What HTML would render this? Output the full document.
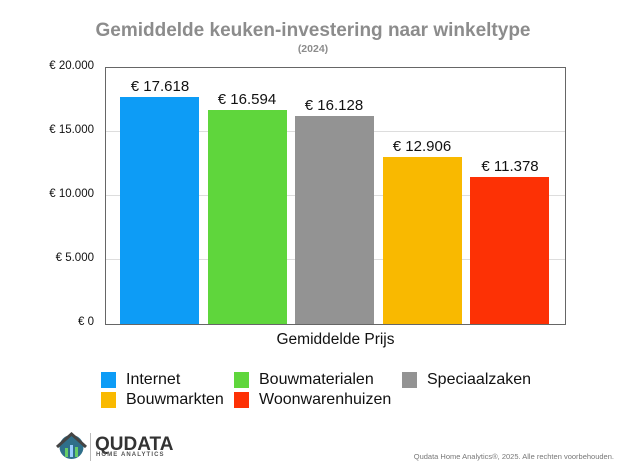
<!DOCTYPE html>
<html><head><meta charset="utf-8"><style>
body{margin:0;background:#fff;width:626px;height:472px;overflow:hidden;font-family:"Liberation Sans",sans-serif;position:relative}
.a{position:absolute}
.yl{position:absolute;left:0;width:94px;text-align:right;font-size:11.5px;color:#111}
.bar{position:absolute}
.v{position:absolute;font-size:15px;color:#111;width:100px;text-align:center}
.sq{position:absolute;width:15px;height:16px}
.lt{position:absolute;font-size:16px;color:#111}
.g{position:absolute;left:106px;width:459px;height:1px;background:#ddd}
</style></head><body>
<div class="a" style="left:0;width:626px;top:20px;text-align:center;font-size:19px;font-weight:bold;color:#8c8c8c">Gemiddelde keuken-investering naar winkeltype</div>
<div class="a" style="left:0;width:626px;top:43px;text-align:center;font-size:10.5px;font-weight:bold;color:#8c8c8c">(2024)</div>
<div class="a" style="left:105px;top:67px;width:459px;height:256px;border:1px solid #666"></div>
<div class="g" style="top:131px"></div><div class="g" style="top:195px"></div><div class="g" style="top:259px"></div>
<div class="yl" style="top:60px">€ 20.000</div>
<div class="yl" style="top:124px">€ 15.000</div>
<div class="yl" style="top:188px">€ 10.000</div>
<div class="yl" style="top:252px">€ 5.000</div>
<div class="yl" style="top:316px">€ 0</div>
<div class="bar" style="left:120px;width:79px;top:97px;height:227px;background:#0d9cf6"></div>
<div class="bar" style="left:208px;width:79px;top:110px;height:214px;background:#5fd63c"></div>
<div class="bar" style="left:295px;width:79px;top:116px;height:208px;background:#939393"></div>
<div class="bar" style="left:383px;width:79px;top:157px;height:167px;background:#f9b900"></div>
<div class="bar" style="left:470px;width:79px;top:177px;height:147px;background:#fd3105"></div>
<div class="v" style="left:110px;top:78px">€ 17.618</div>
<div class="v" style="left:197px;top:91px">€ 16.594</div>
<div class="v" style="left:284px;top:97px">€ 16.128</div>
<div class="v" style="left:372px;top:138px">€ 12.906</div>
<div class="v" style="left:460px;top:158px">€ 11.378</div>
<div class="a" style="left:106px;width:459px;top:331px;text-align:center;font-size:15.5px;color:#111">Gemiddelde Prijs</div>
<div class="sq" style="left:101px;top:372px;background:#0d9cf6"></div><div class="lt" style="left:126px;top:371px">Internet</div>
<div class="sq" style="left:234px;top:372px;background:#5fd63c"></div><div class="lt" style="left:259px;top:371px">Bouwmaterialen</div>
<div class="sq" style="left:402px;top:372px;background:#939393"></div><div class="lt" style="left:427px;top:371px">Speciaalzaken</div>
<div class="sq" style="left:101px;top:392px;background:#f9b900"></div><div class="lt" style="left:126px;top:391px">Bouwmarkten</div>
<div class="sq" style="left:234px;top:392px;background:#fd3105"></div><div class="lt" style="left:259px;top:391px">Woonwarenhuizen</div>
<svg class="a" style="left:55px;top:432px" width="33" height="28" viewBox="0 0 33 28"><circle cx="16.5" cy="15" r="12" fill="#2f6f8a"/><path d="M2 15 L16.5 2 L31 15" stroke="#444" stroke-width="3" fill="none"/><rect x="10" y="16" width="3" height="9" fill="#6c6"/><rect x="15" y="13" width="3" height="12" fill="#9cf"/><rect x="20" y="15" width="3" height="10" fill="#6c6"/></svg>
<div class="a" style="left:90px;top:433px;width:1px;height:28px;background:#bbb"></div>
<div class="a" style="left:95px;top:434px;font-size:19px;font-weight:bold;color:#333">QUDATA</div>
<div class="a" style="left:96px;top:452px;font-size:6px;font-weight:bold;color:#555;letter-spacing:1.1px">HOME ANALYTICS</div>
<div class="a" style="left:340px;top:452px;width:274px;text-align:right;font-size:7.5px;color:#777">Qudata Home Analytics®, 2025. Alle rechten voorbehouden.</div>
</body></html>
